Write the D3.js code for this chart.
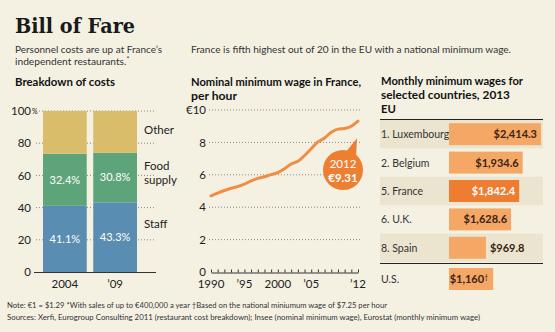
<!DOCTYPE html>
<html>
<head>
<meta charset="utf-8">
<script src="https://cdn.jsdelivr.net/npm/d3@7"></script>
<style>
  body { margin: 0; background: #f4f1e3; }
  svg { display: block; font-family: Lato, "Open Sans", sans-serif; }
  .grid line { stroke: #8a8a80; stroke-dasharray: 1,2; }
  .tick text { fill: #222; }
</style>
</head>
<body>
<script>
// cost breakdown (percent)
var costYears = ["2004", "\u201909"];
var staff = [41.1, 43.3];
var food = [32.4, 30.8];
var other = [26.5, 25.9];

// nominal hourly minimum wage, euros
var wageYears = [1990, 1991, 1992, 1993, 1994, 1995, 1996, 1997, 1998, 1999, 2000, 2001,
                 2002, 2003, 2004, 2005, 2006, 2007, 2008, 2009, 2010, 2011, 2012];
var wage = [4.70, 4.87, 5.03, 5.17, 5.27, 5.42, 5.62, 5.78, 5.88, 6.01, 6.13, 6.37,
            6.67, 6.83, 7.19, 7.61, 8.03, 8.27, 8.63, 8.82, 8.86, 9.00, 9.31];
var wageTicks = [1990, 1995, 2000, 2005, 2012];
var wageTickLabels = ["1990", "\u201995", "2000", "\u201905", "\u201912"];

// monthly minimum wages 2013, dollars
var countries = ["1. Luxembourg", "2. Belgium", "5. France", "6. U.K.", "8. Spain"];
var monthly = [2414.3, 1934.6, 1842.4, 1628.6, 969.8];
var usLabel = "U.S.";
var usMonthly = 1160;

var width = 555, height = 332;
var bg = "#f4f1e3";

var svg = d3.select("body").append("svg")
    .attr("width", width)
    .attr("height", height);

svg.append("rect").attr("width", width).attr("height", height).attr("fill", bg);

// headline
svg.append("text")
    .attr("x", 15).attr("y", 33)
    .style("font-family", "'DejaVu Serif', serif")
    .style("font-weight", "bold")
    .style("font-size", "21px")
    .attr("textLength", 120)
    .attr("lengthAdjust", "spacingAndGlyphs")
    .attr("fill", "#1a1a1a")
    .text("Bill of Fare");

// helper: text squeezed to a given width
function fitText(g, x, y, w, s) {
  return g.append("text").attr("x", x).attr("y", y)
      .attr("textLength", w).attr("lengthAdjust", "spacingAndGlyphs").text(s);
}

var sub = svg.append("g").attr("fill", "#333").style("font-size", "10.2px");
fitText(sub, 15, 53, 147, "Personnel costs are up at France\u2019s");
sub.append("text").attr("x", 15).attr("y", 65).text("independent restaurants.")
  .append("tspan").attr("dy", -3).style("font-size", "7px").text("*");
fitText(sub, 191, 53, 320, "France is fifth highest out of 20 in the EU with a national minimum wage.");

var heads = svg.append("g").attr("fill", "#111").style("font-size", "11.3px").style("font-weight", "bold");
fitText(heads, 15, 86, 100, "Breakdown of costs");
fitText(heads, 191, 86, 170, "Nominal minimum wage in France,");
fitText(heads, 191, 100, 46, "per hour");
fitText(heads, 381, 85, 142, "Monthly minimum wages for");
fitText(heads, 381, 99, 129, "selected countries, 2013");

// ---- panel 1: stacked bars
var y1 = d3.scaleLinear().domain([0, 100]).range([272, 111]);
var x1 = d3.scaleBand().domain(costYears).range([41, 139]).paddingInner(0.13).paddingOuter(0.04);

var g1 = svg.append("g");
g1.append("g").attr("class", "grid")
  .selectAll("line").data([20, 40, 60, 80, 100]).join("line")
    .attr("x1", 36).attr("x2", 156)
    .attr("y1", function(d) { return y1(d); }).attr("y2", function(d) { return y1(d); });

var layers = [
  { name: "staff", vals: staff, color: "#5a8db2" },
  { name: "food", vals: food, color: "#5ea47b" },
  { name: "other", vals: other, color: "#d9bd6b" }
];
costYears.forEach(function(yr, i) {
  var base = 0;
  layers.forEach(function(l) {
    var v = l.vals[i];
    g1.append("rect")
        .attr("x", x1(yr)).attr("width", x1.bandwidth())
        .attr("y", y1(base + v)).attr("height", y1(base) - y1(base + v))
        .attr("fill", l.color);
    if (l.name != "other") {
      g1.append("text")
          .attr("x", x1(yr) + x1.bandwidth() / 2)
          .attr("y", y1(base + v / 2) + 4)
          .attr("text-anchor", "middle")
          .attr("fill", "#fff")
          .style("font-size", "11px")
          .text(v.toFixed(1) + "%");
    }
    base += v;
  });
});

g1.append("line").attr("x1", 34).attr("x2", 156).attr("y1", 272.5).attr("y2", 272.5)
    .attr("stroke", "#333").attr("stroke-width", 1);

var ax1 = g1.append("g").attr("transform", "translate(33,0)")
    .call(d3.axisLeft(y1).tickValues([0, 20, 40, 60, 80, 100]).tickSize(0).tickPadding(2))
    .style("font-family", "inherit").style("font-size", "11.5px");
ax1.select(".domain").remove();
g1.append("text").attr("x", 32).attr("y", y1(100) + 3).style("font-size", "7px").attr("fill", "#222").text("%");

g1.selectAll(".xl").data(costYears).join("text")
    .attr("x", function(d) { return x1(d) + x1.bandwidth() / 2; })
    .attr("y", 288).attr("text-anchor", "middle")
    .style("font-size", "11.5px").attr("fill", "#222")
    .text(function(d) { return d; });

var lg = g1.append("g").attr("fill", "#222").style("font-size", "11.5px");
lg.append("text").attr("x", 144).attr("y", 134).text("Other");
lg.append("text").attr("x", 144).attr("y", 170).text("Food");
lg.append("text").attr("x", 144).attr("y", 184).text("supply");
lg.append("text").attr("x", 144).attr("y", 228).text("Staff");

// ---- panel 2: line chart
var x2 = d3.scaleLinear().domain([1990, 2012]).range([211, 358]);
var y2 = d3.scaleLinear().domain([0, 10]).range([272, 110]);

var g2 = svg.append("g");
g2.append("g").attr("class", "grid")
  .selectAll("line").data([2, 4, 6, 8, 10]).join("line")
    .attr("x1", 209).attr("x2", 361)
    .attr("y1", function(d) { return y2(d); }).attr("y2", function(d) { return y2(d); });

var ax2y = g2.append("g").attr("transform", "translate(206,0)")
    .call(d3.axisLeft(y2).tickValues([0, 2, 4, 6, 8, 10]).tickSize(0).tickPadding(0)
      .tickFormat(function(d) { return d == 10 ? "\u20ac10" : d; }))
    .style("font-family", "inherit").style("font-size", "11.5px");
ax2y.select(".domain").remove();

var ax2x = g2.append("g").attr("transform", "translate(0,272.5)")
    .call(d3.axisBottom(x2).tickValues(wageYears).tickSizeInner(-3).tickSizeOuter(0).tickFormat(""));
ax2x.select(".domain").attr("stroke", "#333");
ax2x.selectAll(".tick line").attr("stroke", "#333");

g2.selectAll(".xl").data(wageTicks).join("text")
    .attr("x", function(d) { return x2(d); })
    .attr("y", 288).attr("text-anchor", "middle")
    .style("font-size", "11.5px").attr("fill", "#222")
    .text(function(d, i) { return wageTickLabels[i]; });

var line = d3.line()
    .x(function(d, i) { return x2(wageYears[i]); })
    .y(function(d) { return y2(d); })
    .curve(d3.curveMonotoneX);

g2.append("path").datum(wage)
    .attr("d", line)
    .attr("fill", "none")
    .attr("stroke", "#ee8d43")
    .attr("stroke-width", 3)
    .attr("stroke-linecap", "round");

// callout for last point
var last = wage[wage.length - 1];
var cx = 343, cy = 170, r = 20;
var tipX = x2(2012) - 1, tipY = y2(last) + 17;
g2.append("path")
    .attr("d", "M" + (cx + 2) + "," + (cy - r + 3) + "L" + tipX + "," + tipY + "L" + (cx + 13) + "," + (cy - r + 8) + "Z")
    .attr("fill", "#ed7f33");
g2.append("circle").attr("cx", cx).attr("cy", cy).attr("r", r).attr("fill", "#ed7f33");
g2.append("text").attr("x", cx).attr("y", cy - 2).attr("text-anchor", "middle")
    .attr("fill", "#fff").style("font-size", "11.5px").text(wageYears[wageYears.length - 1]);
g2.append("text").attr("x", cx).attr("y", cy + 12).attr("text-anchor", "middle")
    .attr("fill", "#fff").style("font-size", "11.5px").style("font-weight", "bold")
    .text("\u20ac" + last.toFixed(2));

// ---- panel 3: horizontal bars
var g3 = svg.append("g");
g3.append("text").attr("x", 381).attr("y", 113).style("font-size", "11.3px").style("font-weight", "bold")
    .attr("fill", "#111").text("EU");

var y3 = d3.scaleBand().domain(countries).range([120, 262]);
var x3 = d3.scaleLinear().domain([0, 2414.3]).range([449, 541]);
var fmt = d3.format("$,.1f");

g3.selectAll(".band").data(countries.filter(function(d, i) { return i % 2 == 0; })).join("rect")
    .attr("x", 380).attr("width", 163)
    .attr("y", function(d) { return y3(d); }).attr("height", y3.bandwidth())
    .attr("fill", "#ebe5cf");

g3.append("line").attr("x1", 380).attr("x2", 543).attr("y1", 119.5).attr("y2", 119.5)
    .attr("stroke", "#222").attr("stroke-width", 1.2);
g3.append("line").attr("x1", 380).attr("x2", 543).attr("y1", 263.5).attr("y2", 263.5)
    .attr("stroke", "#222").attr("stroke-width", 1.2);

var bh = 22;
countries.forEach(function(c, i) {
  var mid = y3(c) + y3.bandwidth() / 2;
  var isFr = c.indexOf("France") >= 0;
  g3.append("text").attr("x", 381).attr("y", mid + 4).style("font-size", "10.5px")
      .attr("fill", "#333").text(c);
  g3.append("rect").attr("x", x3(0)).attr("y", mid - bh / 2)
      .attr("width", x3(monthly[i]) - x3(0)).attr("height", bh)
      .attr("fill", isFr ? "#ee7d31" : "#f5a766");
  var inside = x3(monthly[i]) - x3(0) > 50;
  g3.append("text")
      .attr("x", inside ? x3(monthly[i]) - 4 : x3(monthly[i]) + 4)
      .attr("y", mid + 4)
      .attr("text-anchor", inside ? "end" : "start")
      .style("font-size", "11px").style("font-weight", "bold")
      .attr("fill", isFr ? "#fff" : "#3a2412")
      .text(fmt(monthly[i]));
});

var usMid = 279;
g3.append("text").attr("x", 381).attr("y", usMid + 4).style("font-size", "10.5px")
    .attr("fill", "#333").text(usLabel);
g3.append("rect").attr("x", x3(0)).attr("y", usMid - bh / 2)
    .attr("width", x3(usMonthly) - x3(0)).attr("height", bh).attr("fill", "#f5a766");
var usT = g3.append("text").attr("x", x3(usMonthly) - 5).attr("y", usMid + 4)
    .attr("text-anchor", "end").style("font-size", "11px").style("font-weight", "bold")
    .attr("fill", "#3a2412").text(d3.format("$,")(usMonthly));
usT.append("tspan").attr("dy", -3).style("font-size", "7px").style("font-weight", "normal").text("\u2020");

// ---- footer
var foot = svg.append("g").attr("fill", "#333").style("font-size", "8.2px");
fitText(foot, 7, 308, 380,
    "Note: \u20ac1 = $1.29  *With sales of up to \u20ac400,000 a year  \u2020Based on the national miniumum wage of $7.25 per hour");
fitText(foot, 7, 320, 473,
    "Sources: Xerfi, Eurogroup Consulting 2011 (restaurant cost breakdown); Insee (nominal minimum wage), Eurostat (monthly minimum wage)");
</script>
</body>
</html>
